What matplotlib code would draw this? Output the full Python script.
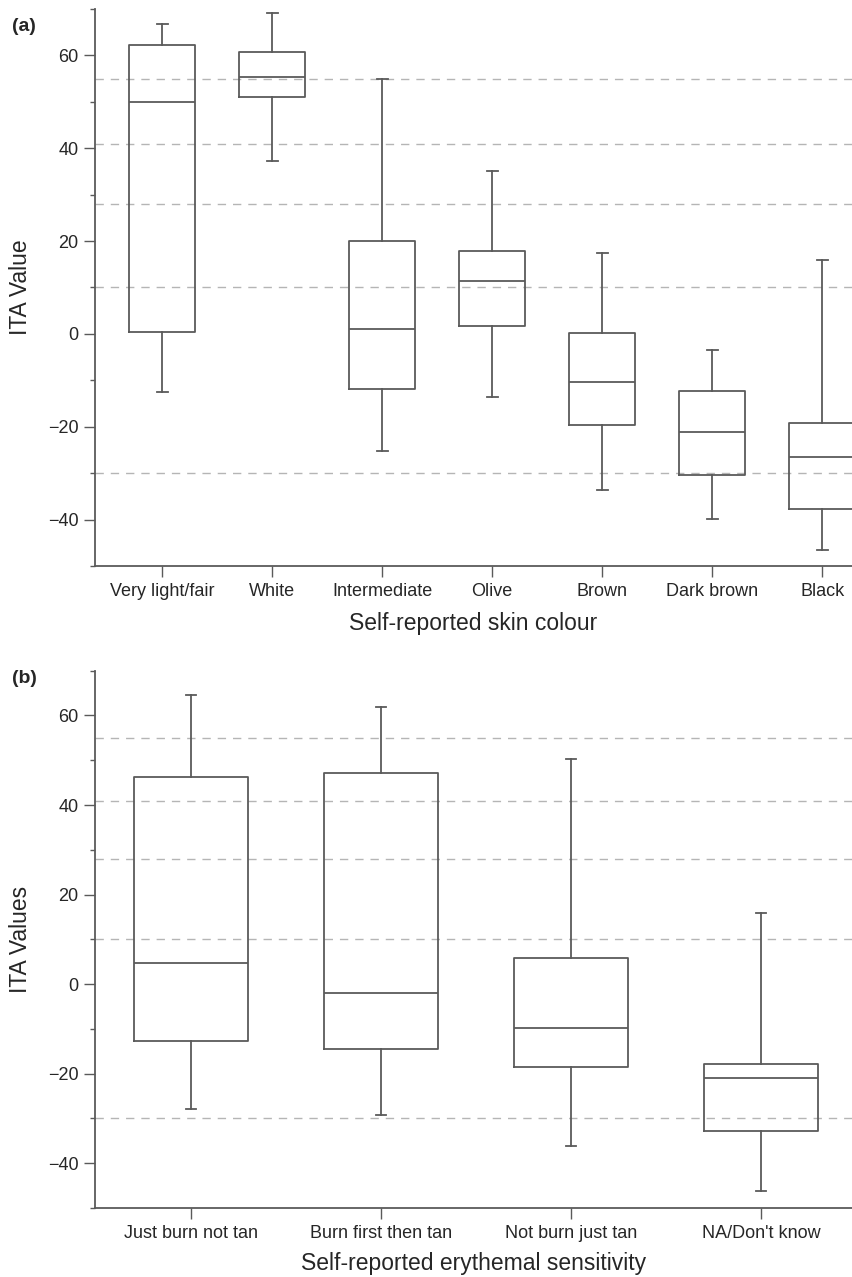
import matplotlib
matplotlib.use('Agg')
import matplotlib.pyplot as plt
from matplotlib.ticker import MultipleLocator

plt.rcParams['font.family'] = ['Liberation Sans', 'DejaVu Sans']

# Panel (a): ITA by self-reported skin colour
skin_labels = ['Very light/fair', 'White', 'Intermediate', 'Olive', 'Brown', 'Dark brown', 'Black']
skin_whislo = [-12.5, 37.3, -25.3, -13.6, -33.7, -39.8, -46.5]
skin_q1 = [0.4, 51.1, -11.9, 1.7, -19.6, -30.4, -37.8]
skin_med = [49.9, 55.3, 1.0, 11.4, -10.4, -21.2, -26.6]
skin_q3 = [62.3, 60.7, 20.1, 17.8, 0.1, -12.3, -19.1]
skin_whishi = [66.8, 69.2, 54.8, 35.0, 17.4, -3.5, 15.9]

# Panel (b): ITA by self-reported erythemal sensitivity
ery_labels = ['Just burn not tan', 'Burn first then tan', 'Not burn just tan', "NA/Don't know"]
ery_whislo = [-27.9, -29.3, -36.1, -46.3]
ery_q1 = [-12.7, -14.5, -18.4, -32.7]
ery_med = [4.7, -1.9, -9.9, -20.9]
ery_q3 = [46.3, 47.1, 5.9, -17.9]
ery_whishi = [64.6, 62.0, 50.3, 15.9]

# ITA category thresholds (dashed reference lines)
ita_cuts = [55, 41, 28, 10, -30]

line_col = '#5a5a5a'
text_col = '#262626'


def make_stats(labels, lo, q1, med, q3, hi):
    return [dict(label=l, whislo=a, q1=b, med=c, q3=d, whishi=e, fliers=[])
            for l, a, b, c, d, e in zip(labels, lo, q1, med, q3, hi)]


def draw_panel(ax, stats, capw, xlim, xlabel, ylabel, xlabel_y):
    for c in ita_cuts:
        ax.axhline(c, color='#b5b5b5', lw=1.0, ls=(0, (6, 5)), zorder=0)
    props = dict(color=line_col, linewidth=1.3)
    ax.bxp(stats, positions=range(len(stats)), widths=0.6, capwidths=capw,
           showfliers=False, boxprops=props, medianprops=props,
           whiskerprops=props, capprops=props)
    ax.set_xlim(*xlim)
    ax.set_ylim(-50, 70)
    ax.yaxis.set_major_locator(MultipleLocator(20))
    ax.yaxis.set_minor_locator(MultipleLocator(10))
    ax.spines['top'].set_visible(False)
    ax.spines['right'].set_visible(False)
    for s in ['left', 'bottom']:
        ax.spines[s].set_color(line_col)
        ax.spines[s].set_linewidth(1.3)
    ax.tick_params(axis='both', which='major', length=8, width=1.0, color=line_col,
                   labelsize=13, labelcolor=text_col)
    ax.tick_params(axis='y', which='minor', length=3.5, width=1.0, color=line_col)
    ax.tick_params(axis='y', pad=4)
    ax.tick_params(axis='x', pad=4)
    ax.set_xlabel(xlabel, fontsize=16.5, color=text_col)
    ax.set_ylabel(ylabel, fontsize=16.5, color=text_col)
    ax.xaxis.set_label_coords(0.5, xlabel_y)
    ax.yaxis.set_label_coords(-0.083, 0.5)


fig = plt.figure(figsize=(8.52, 12.77), dpi=100)
ax1 = fig.add_axes([0.1115, 0.5568, 0.8885, 0.4362])
ax2 = fig.add_axes([0.1115, 0.054, 0.8885, 0.4208])

draw_panel(ax1, make_stats(skin_labels, skin_whislo, skin_q1, skin_med, skin_q3, skin_whishi),
           0.1, (-0.61, 6.27), 'Self-reported skin colour', 'ITA Value', -0.083)
draw_panel(ax2, make_stats(ery_labels, ery_whislo, ery_q1, ery_med, ery_q3, ery_whishi),
           0.055, (-0.505, 3.48), 'Self-reported erythemal sensitivity', 'ITA Values', -0.081)

fig.text(0.014, 0.986, '(a)', fontsize=14, fontweight='bold', va='top', color=text_col)
fig.text(0.014, 0.4753, '(b)', fontsize=14, fontweight='bold', va='top', color=text_col)

fig.savefig('out.png', dpi=100)
